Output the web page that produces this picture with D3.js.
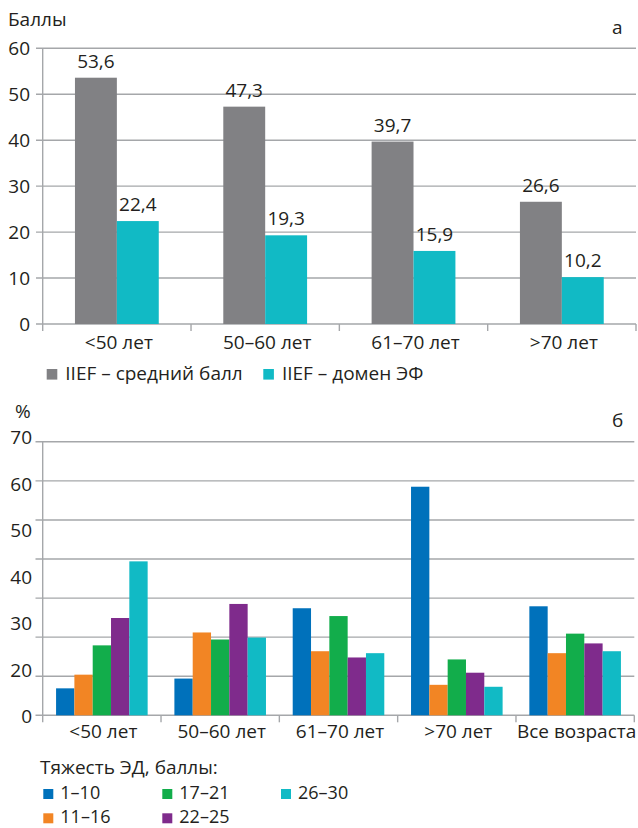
<!DOCTYPE html>
<html>
<head>
<meta charset="utf-8">
<script src="https://cdn.jsdelivr.net/npm/d3@7"></script>
<style>
  html, body { margin: 0; padding: 0; background: #fff; }
  svg { display: block; }
  text { font-family: "Open Sans", "Noto Sans", sans-serif; fill: #231f20; }
</style>
</head>
<body>
<svg id="chart" width="638" height="828"></svg>
<script>
// ---- Panel "а": IIEF scores by age group ----
const ageGroupsA = ["<50 лет", "50–60 лет", "61–70 лет", ">70 лет"];
const seriesA = ["IIEF – средний балл", "IIEF – домен ЭФ"];
const iiefTotal = [53.6, 47.3, 39.7, 26.6];
const iiefEF = [22.4, 19.3, 15.9, 10.2];
const valueLabelsA = [["53,6", "47,3", "39,7", "26,6"], ["22,4", "19,3", "15,9", "10,2"]];
const yTicksA = [0, 10, 20, 30, 40, 50, 60];

// ---- Panel "б": ED severity distribution by age group ----
const ageGroupsB = ["<50 лет", "50–60 лет", "61–70 лет", ">70 лет", "Все возраста"];
const severityLevels = ["1–10", "11–16", "17–21", "22–25", "26–30"];
const sev1_10 = [6.9, 9.4, 27.4, 58.5, 27.9];
const sev11_16 = [10.4, 21.2, 16.4, 7.8, 15.9];
const sev17_21 = [17.9, 19.4, 25.4, 14.3, 20.9];
const sev22_25 = [24.9, 28.5, 14.8, 10.9, 18.4];
const sev26_30 = [39.4, 19.9, 15.9, 7.3, 16.4];
const gridB = [0, 10, 20, 30, 40, 50, 60, 70];
const yTickLabelsB = ["0", "20", "30", "40", "50", "60", "70"];

const colorsA = ["#818184", "#11bac5"];
const colorsB = ["#0071bb", "#f28524", "#12ad4b", "#7f2b8c", "#11bac5"];
const gridColor = "#a5a7aa";

const svg = d3.select("#chart");
const fontSize = 19;

// ================= Panel а =================
const gA = svg.append("g");
const xA = d3.scaleBand().domain(ageGroupsA).range([42.7, 636]).paddingInner(0).paddingOuter(0);
const yA = d3.scaleLinear().domain([0, 60]).range([324, 48.3]);
const xA1 = d3.scaleBand().domain(seriesA).range([0, xA.bandwidth()]).paddingInner(0).paddingOuter(0.77);

// gridlines with small outer ticks
gA.append("g").selectAll("line").data(yTicksA).join("line")
  .attr("x1", 36).attr("x2", 636)
  .attr("y1", d => yA(d)).attr("y2", d => yA(d))
  .attr("stroke", gridColor).attr("stroke-width", 1.4);
gA.append("line").attr("x1", 42.7).attr("x2", 42.7).attr("y1", yA(60)).attr("y2", yA(0) + 7)
  .attr("stroke", gridColor).attr("stroke-width", 1.4);
// category separators below axis
gA.append("g").selectAll("line").data(ageGroupsA.slice(1).map(d => xA(d)).concat([636]))
  .join("line")
  .attr("x1", d => d).attr("x2", d => d).attr("y1", yA(0)).attr("y2", yA(0) + 7)
  .attr("stroke", gridColor).attr("stroke-width", 1.4);

gA.append("g").selectAll("text").data(yTicksA).join("text")
  .attr("x", 30).attr("y", d => yA(d)).attr("dy", "0.35em")
  .attr("text-anchor", "end").attr("font-size", fontSize).text(d => d);

const dataA = [iiefTotal, iiefEF];
dataA.forEach((vals, si) => {
  gA.append("g").selectAll("rect").data(ageGroupsA).join("rect")
    .attr("x", d => xA(d) + xA1(seriesA[si]))
    .attr("width", xA1.bandwidth())
    .attr("y", (d, i) => yA(vals[i]))
    .attr("height", (d, i) => yA(0) - yA(vals[i]))
    .attr("fill", colorsA[si]);
  gA.append("g").selectAll("text").data(ageGroupsA).join("text")
    .attr("x", d => xA(d) + xA1(seriesA[si]) + xA1.bandwidth() / 2)
    .attr("y", (d, i) => yA(vals[i]) - 10)
    .attr("text-anchor", "middle").attr("font-size", fontSize)
    .text((d, i) => valueLabelsA[si][i]);
});

gA.append("g").selectAll("text").data(ageGroupsA).join("text")
  .attr("x", d => xA(d) + xA.bandwidth() / 2 + 2)
  .attr("y", 348.5).attr("text-anchor", "middle").attr("font-size", fontSize)
  .text(d => d);

svg.append("text").attr("x", 8).attr("y", 26).attr("font-size", fontSize).text("Баллы");
svg.append("text").attr("x", 612).attr("y", 34).attr("font-size", fontSize).text("а");

// legend а
const legA = svg.append("g");
const legAx = [46.7, 263.3];
seriesA.forEach((s, i) => {
  legA.append("rect").attr("x", legAx[i]).attr("y", 369).attr("width", 10.6).attr("height", 10.6)
    .attr("fill", colorsA[i]);
  legA.append("text").attr("x", legAx[i] + 18.6).attr("y", 379.5).attr("font-size", fontSize).text(s);
});

// ================= Panel б =================
const gB = svg.append("g");
const xB = d3.scaleBand().domain(ageGroupsB).range([42.7, 634.3]).paddingInner(0).paddingOuter(0);
const yB = d3.scaleLinear().domain([0, 70]).range([715.3, 441.8]);
const xB1 = d3.scaleBand().domain(severityLevels).range([0, xB.bandwidth()]).paddingInner(0).paddingOuter(0.73);
const yLabelB = d3.scalePoint().domain(yTickLabelsB).range([716.7, 437.5]);

gB.append("g").selectAll("line").data(gridB).join("line")
  .attr("x1", 35.5).attr("x2", 634.3)
  .attr("y1", d => yB(d)).attr("y2", d => yB(d))
  .attr("stroke", gridColor).attr("stroke-width", 1.4);
gB.append("line").attr("x1", 42.7).attr("x2", 42.7).attr("y1", yB(70)).attr("y2", yB(0) + 7)
  .attr("stroke", gridColor).attr("stroke-width", 1.4);
gB.append("g").selectAll("line").data(ageGroupsB.slice(1).map(d => xB(d)).concat([634.3]))
  .join("line")
  .attr("x1", d => d).attr("x2", d => d).attr("y1", yB(0)).attr("y2", yB(0) + 7)
  .attr("stroke", gridColor).attr("stroke-width", 1.4);

gB.append("g").selectAll("text").data(yTickLabelsB).join("text")
  .attr("x", 32).attr("y", d => yLabelB(d)).attr("dy", "0.35em")
  .attr("text-anchor", "end").attr("font-size", fontSize).text(d => d);

const dataB = [sev1_10, sev11_16, sev17_21, sev22_25, sev26_30];
dataB.forEach((vals, si) => {
  gB.append("g").selectAll("rect").data(ageGroupsB).join("rect")
    .attr("x", d => xB(d) + xB1(severityLevels[si]))
    .attr("width", xB1.bandwidth())
    .attr("y", (d, i) => yB(vals[i]))
    .attr("height", (d, i) => yB(0) - yB(vals[i]))
    .attr("fill", colorsB[si]);
});

gB.append("g").selectAll("text").data(ageGroupsB).join("text")
  .attr("x", d => xB(d) + xB.bandwidth() / 2 + 1.5)
  .attr("y", 737.5).attr("text-anchor", "middle").attr("font-size", fontSize)
  .text(d => d);

svg.append("text").attr("x", 15).attr("y", 417.5).attr("font-size", fontSize).text("%");
svg.append("text").attr("x", 612).attr("y", 427).attr("font-size", fontSize).text("б");

// legend б: three columns, two rows (filled column by column)
const legB = svg.append("g");
legB.append("text").attr("x", 40).attr("y", 774).attr("font-size", fontSize).text("Тяжесть ЭД, баллы:");
const legBcol = [43.3, 162.3, 281];
const legBrow = [789, 813.3];
severityLevels.forEach((s, i) => {
  const cx = legBcol[Math.floor(i / 2)];
  const ry = legBrow[i % 2];
  legB.append("rect").attr("x", cx).attr("y", ry).attr("width", 10).attr("height", 10)
    .attr("fill", colorsB[i]);
  legB.append("text").attr("x", cx + 17).attr("y", ry + 9.6).attr("font-size", 18).text(s);
});
</script>
</body>
</html>
